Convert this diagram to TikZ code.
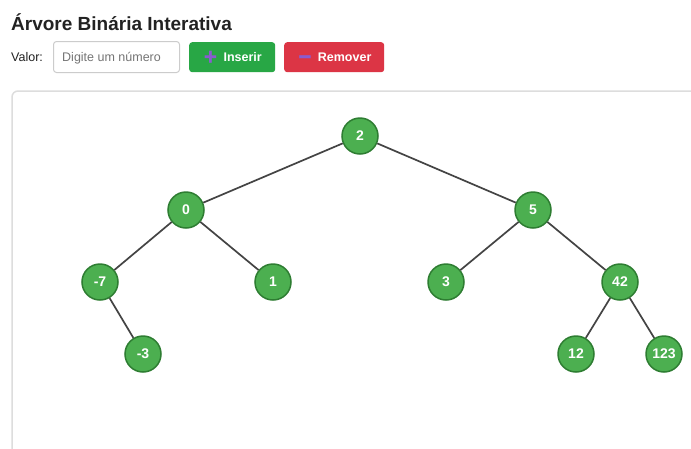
\documentclass[tikz,border=0pt]{standalone}
\usepackage{fontspec}
\setmainfont{Liberation Sans}
\newfontfamily\emojifont{Noto Emoji}
\definecolor{nodegreen}{HTML}{4CAF50}
\definecolor{nodeborder}{HTML}{2E7D32}
\definecolor{edgegray}{HTML}{444444}
\definecolor{btngreen}{HTML}{28A745}
\definecolor{btnred}{HTML}{DC3545}
\definecolor{panelgray}{HTML}{DDDDDD}
\definecolor{inputgray}{HTML}{CCCCCC}
\definecolor{placeholder}{HTML}{757575}
\definecolor{iconpurple}{HTML}{8A5CD0}
\definecolor{titlecol}{HTML}{222222}
\begin{document}
\begin{tikzpicture}[x=1pt,y=-1pt,
  treenode/.style={circle,fill=nodegreen,draw=nodeborder,line width=1.5pt,minimum size=36pt,inner sep=0pt,text=white,font=\fontsize{14}{16}\selectfont\bfseries},
  edge/.style={draw=edgegray,line width=1.7pt},
  button/.style={rounded corners=3pt,minimum height=30pt,text=white,font=\fontsize{12.5}{15}\selectfont\bfseries,inner sep=0pt}]
\useasboundingbox (0,0) rectangle (691,448);
\fill[white] (0,0) rectangle (691,448);
% title
\node[anchor=base west,inner sep=0pt,text=titlecol,font=\fontsize{19}{22}\selectfont\bfseries] (title) at (11,30) {Árvore Binária Interativa};
% controls
\node[anchor=base west,inner sep=0pt,text=titlecol,font=\fontsize{12.5}{15}\selectfont] (lbl) at (11,61) {Valor:};
\node[draw=inputgray,line width=1pt,rounded corners=3pt,minimum width=126pt,minimum height=31pt,anchor=north west,inner sep=0pt] (inp) at (53,41) {};
\node[anchor=base west,inner sep=0pt,text=placeholder,font=\fontsize{12.5}{15}\selectfont] (ph) at (62,61) {Digite um número};
\node[button,fill=btngreen,minimum width=86pt,anchor=north west] (ins) at (189,42) {\textcolor{iconpurple}{\emojifont\bfseries ➕}\hspace{5pt}Inserir};
\node[button,fill=btnred,minimum width=100pt,anchor=north west] (rem) at (284,42) {\textcolor{iconpurple}{\emojifont\bfseries ➖}\hspace{5pt}Remover};
% panel
\draw[panelgray,line width=1.5pt,rounded corners=6pt] (12,470) -- (12,91) -- (710,91);
% tree
\node[treenode] (n2) at (360,136) {2};
\node[treenode] (n0) at (186,210) {0};
\node[treenode] (n5) at (533,210) {5};
\node[treenode] (nm7) at (100,282) {-7};
\node[treenode] (n1) at (273,282) {1};
\node[treenode] (n3) at (446,282) {3};
\node[treenode] (n42) at (620,282) {42};
\node[treenode] (nm3) at (143,354) {-3};
\node[treenode] (n12) at (576,354) {12};
\node[treenode] (n123) at (664,354) {123};
\draw[edge] (n2) -- (n0);
\draw[edge] (n2) -- (n5);
\draw[edge] (n0) -- (nm7);
\draw[edge] (n0) -- (n1);
\draw[edge] (n5) -- (n3);
\draw[edge] (n5) -- (n42);
\draw[edge] (nm7) -- (nm3);
\draw[edge] (n42) -- (n12);
\draw[edge] (n42) -- (n123);
\end{tikzpicture}
\end{document}
